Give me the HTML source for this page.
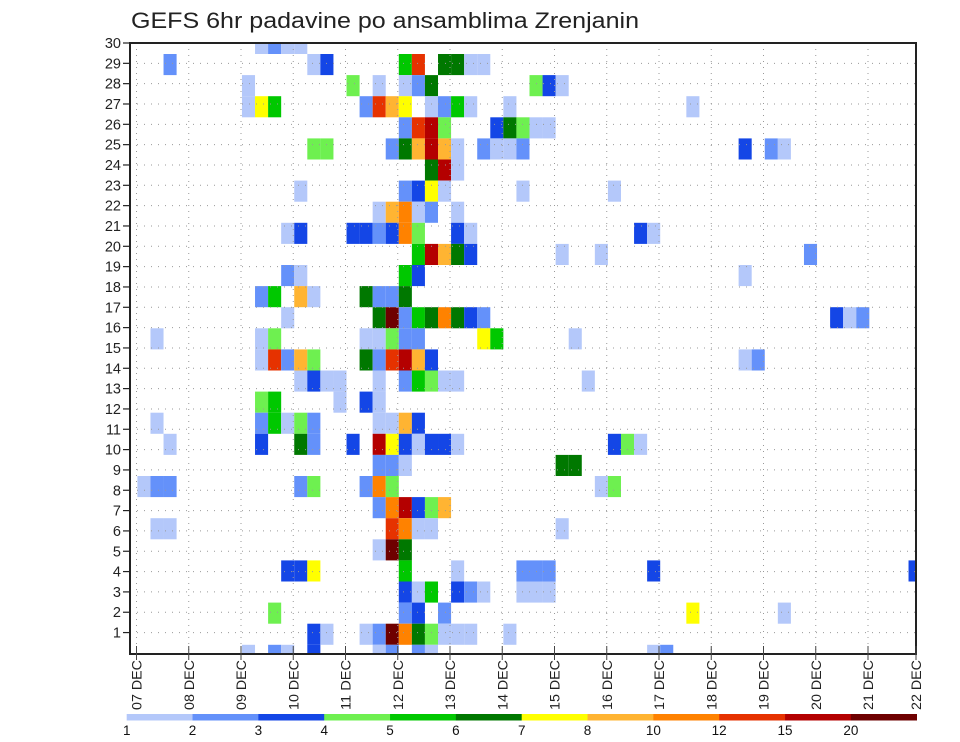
<!DOCTYPE html>
<html><head><meta charset="utf-8"><style>
html,body{margin:0;padding:0;background:#fff;}
svg{display:block;font-family:"Liberation Sans",sans-serif;}
</style></head><body>
<svg id="chart" width="960" height="742" viewBox="0 0 960 742" xmlns="http://www.w3.org/2000/svg">
<defs><clipPath id="pc"><rect x="130" y="43" width="786" height="611"/></clipPath></defs>
<text x="131" y="28" font-size="22.5" fill="#222" textLength="508" lengthAdjust="spacingAndGlyphs">GEFS 6hr padavine po ansamblima Zrenjanin</text>
<g id="cells" clip-path="url(#pc)"></g>
<g id="grid"></g>
<rect x="130" y="43" width="786" height="611" fill="none" stroke="#222" stroke-width="2"/>
<g id="yaxis"></g>
<g id="xaxis"></g>
<g id="cbar"></g>
</svg>
<script>
// ---- data ----
const memberRow = [0,0,0,0, 1,1,1,1,1,1,1,1,1, 2,2,2,2,2,2,2,2,2, 3,3,3,3,3,3,3,3,3,3,3,3,3, 4,4,4,4,4,4,4,4,4, 5,5,5,5,5,5,5,5,5,5,5,5,5,5,5, 6,6,6, 7,7,7,7,7,7,7, 8,8,8,8,8,8, 9,9,9,9,9,9,9,9,9,9,9,9, 10,10,10,10,10,10,10,10, 11,11,11,11,11, 12,12,12,12,12,12,12,12, 13,13,13,13,13,13,13,13,13,13,13,13,13, 14,14,14,14,14,14,14,14,14,14,14, 15,15,15,15,15,15,15,15,15,15,15,15,15, 16,16,16,16,16,16,16,16,16,16,16, 17,17,17,17,17, 18,18,18,18,18,18,18,18,18,18, 19,19,19,19,19,19,19,19,19,19,19,19,19,19,19, 20,20,20,20,20, 21,21,21,21,21,21,21,21,21,21, 22,22,22,22,22,22, 23,23,23,23,23,23,23, 24,24,24, 25,25,25,25,25,25,25,25,25,25, 26,26,26,26,26,26,26,26,26, 27,27,27,27,27,27, 28,28,28,28,28,28,28,28,28,28,28,28, 29,29,29,29,29,29,29,29,29,29];
const timeStep = [9,10,11,12, 2,13,14,20,21,23,24,25,26, 8,16,18,20,21,22,30,31,32, 8,9,10,17,18,19,20,22,23,24,25,28,42, 20,21,22,23,27,28,29,30,31, 13,14,19,20,21,22,23,24,26,27,28,29,46,48,49, 22,23,24, 12,20,21,22,23,29,36, 18,19,20,21,22,24, 11,12,16,17,18,19,20,21,24,25,38,39, 21,22,23,24,25,32,35,51, 11,12,20,21,46, 9,10,12,13,17,18,19,20, 11,18,19,20,21,22,23,24,25,26,53,54,55, 1,9,10,17,18,19,20,21,26,27,33, 9,10,11,12,13,17,18,19,20,21,22,46,47, 12,13,14,15,18,20,21,22,23,24,34, 9,10,15,17,18, 1,9,10,11,12,13,18,19,20,21, 2,9,12,13,16,18,19,20,21,22,23,24,36,37,38, 18,19,20,32,33, 0,1,2,12,13,17,18,19,35,36, 18,19,20,21,22,23, 1,2,19,20,21,22,32, 18,19,20, 11,12,13,20,24,29,30,31,39,59, 20,21,22,24,25,26,29,30,31, 10,20,21,23,42,49, 13,14,17,18,19,20,21,22,23,24,25,28, 8,10,11,13,18,19,21,22,39,40];
const precipMm = [1.5,2.5,1.5,1.5, 2.5,1.5,3.5,5.5,13.5,6.5,6.5,1.5,1.5, 1.5,4.5,1.5,1.5,2.5,6.5,4.5,3.5,1.5, 1.5,7.5,5.5,2.5,13.5,9,7.5,1.5,2.5,5.5,1.5,1.5,1.5, 2.5,13.5,17,4.5,3.5,6.5,4.5,1.5,1.5, 4.5,4.5,2.5,6.5,9,17,9,1.5,2.5,1.5,1.5,2.5,3.5,2.5,1.5, 6.5,17,1.5, 1.5,2.5,3.5,7.5,1.5,1.5,1.5, 1.5,9,11,1.5,2.5,1.5, 1.5,3.5,3.5,3.5,2.5,3.5,11,4.5,3.5,1.5,3.5,1.5, 5.5,17,9,6.5,3.5,1.5,1.5,2.5, 2.5,1.5,5.5,3.5,1.5, 2.5,5.5,9,1.5,6.5,2.5,2.5,6.5, 1.5,6.5,25,2.5,5.5,6.5,11,6.5,3.5,2.5,3.5,1.5,2.5, 1.5,1.5,4.5,1.5,1.5,4.5,2.5,2.5,7.5,5.5,1.5, 1.5,13.5,2.5,9,4.5,6.5,2.5,13.5,17,9,3.5,1.5,2.5, 1.5,3.5,1.5,1.5,1.5,2.5,5.5,4.5,1.5,1.5,1.5, 4.5,5.5,1.5,3.5,1.5, 1.5,2.5,5.5,1.5,4.5,2.5,1.5,1.5,9,3.5, 1.5,3.5,6.5,2.5,3.5,17,7.5,3.5,1.5,3.5,3.5,1.5,3.5,4.5,1.5, 2.5,2.5,1.5,6.5,6.5, 1.5,2.5,2.5,2.5,4.5,2.5,11,4.5,1.5,4.5, 2.5,11,17,3.5,4.5,9, 1.5,1.5,13.5,11,1.5,1.5,1.5, 1.5,25,6.5, 3.5,3.5,7.5,5.5,1.5,2.5,2.5,2.5,3.5,3.5, 3.5,1.5,5.5,3.5,2.5,1.5,1.5,1.5,1.5, 4.5,2.5,3.5,2.5,7.5,1.5, 3.5,1.5,1.5,2.5,25,11,6.5,4.5,1.5,1.5,1.5,1.5, 1.5,2.5,1.5,3.5,1.5,2.5,2.5,1.5,1.5,2.5];
const levelBounds = [1,2,3,4,5,6,7,8,10,12,15,20];
const levelLabels = ["1","2","3","4","5","6","7","8","10","12","15","20"];
const levelColors = ["#b4c8fa","#6491fa","#1446e6","#6ef050","#00c800","#007800","#ffff00","#ffb432","#ff8200","#e63200","#b40000","#6e0000"];
const dayLabels = ["07","08","09","10","11","12","13","14","15","16","17","18","19","20","21","22"];
const memberLabels = [30,29,28,27,26,25,24,23,22,21,20,19,18,17,16,15,14,13,12,11,10,9,8,7,6,5,4,3,2,1];

// ---- axis functions ----
const NS="http://www.w3.org/2000/svg";
const dayX = d => Math.min(136.5 + 52.25*d, 916);
const stepX = k => 137.4 + 13.07*k;
const stepW = 13.07;
const rowY = j => 32.9 + 21.1*j;
const rowH = 21.1;
const labelY = n => 43 + (30-n)*20.33;
function colorFor(v){let i=0;for(let b=0;b<levelBounds.length;b++){if(v>=levelBounds[b])i=b;}return levelColors[i];}
function mk(tag,attrs,parent){const e=document.createElementNS(NS,tag);for(const a in attrs)e.setAttribute(a,attrs[a]);parent.appendChild(e);return e;}

const cells=document.getElementById('cells');
for(let i=0;i<precipMm.length;i++){
  const r=mk('rect',{x:stepX(timeStep[i]).toFixed(2),y:rowY(memberRow[i]).toFixed(2),width:stepW,height:rowH,fill:colorFor(precipMm[i])},cells);
  
  
}

const grid=document.getElementById('grid');
for(let d=0;d<dayLabels.length-1;d++){
  const l=mk('line',{x1:dayX(d),x2:dayX(d),y1:43,y2:654,stroke:'#999','stroke-width':1,'stroke-dasharray':'1,5'},grid);
  
  
}
for(let n=1;n<=30;n++){
  const l=mk('line',{x1:130,x2:916,y1:labelY(n),y2:labelY(n),stroke:'#999','stroke-width':1,'stroke-dasharray':'1,6'},grid);
  
  
}

const ya=document.getElementById('yaxis');
memberLabels.forEach(n=>{
  const t=mk('line',{x1:123,x2:130,y1:labelY(n),y2:labelY(n),stroke:'#222','stroke-width':1.2},ya);
  
  
  const tx=mk('text',{x:121,y:labelY(n)+5,'font-size':14.5,'text-anchor':'end',fill:'#222'},ya);
  tx.textContent=String(n);
  
  
});

const xa=document.getElementById('xaxis');
dayLabels.forEach((lab,d)=>{
  const x=dayX(d);
  const t=mk('line',{x1:x,x2:x,y1:646,y2:660,stroke:'#444','stroke-width':1},xa);
  
  
  const tx=mk('text',{x:0,y:0,'font-size':14,fill:'#222',transform:`translate(${x+5},710) rotate(-90)`,textLength:50,lengthAdjust:'spacingAndGlyphs'},xa);
  tx.textContent=lab+"  DEC";
  
  
});

const cb=document.getElementById('cbar');
const cbX0=126.7, cbW=(916.7-126.7)/levelColors.length;
levelColors.forEach((c,i)=>{
  const r=mk('rect',{x:cbX0+i*cbW,y:714,width:cbW+0.3,height:6.5,fill:c},cb);
  
  
});
levelLabels.forEach((lab,i)=>{
  const t=mk('text',{x:cbX0+i*cbW,y:735,'font-size':13.5,'text-anchor':'middle',fill:'#111'},cb);
  t.textContent=lab;
  
  
});
</script>
</body></html>
